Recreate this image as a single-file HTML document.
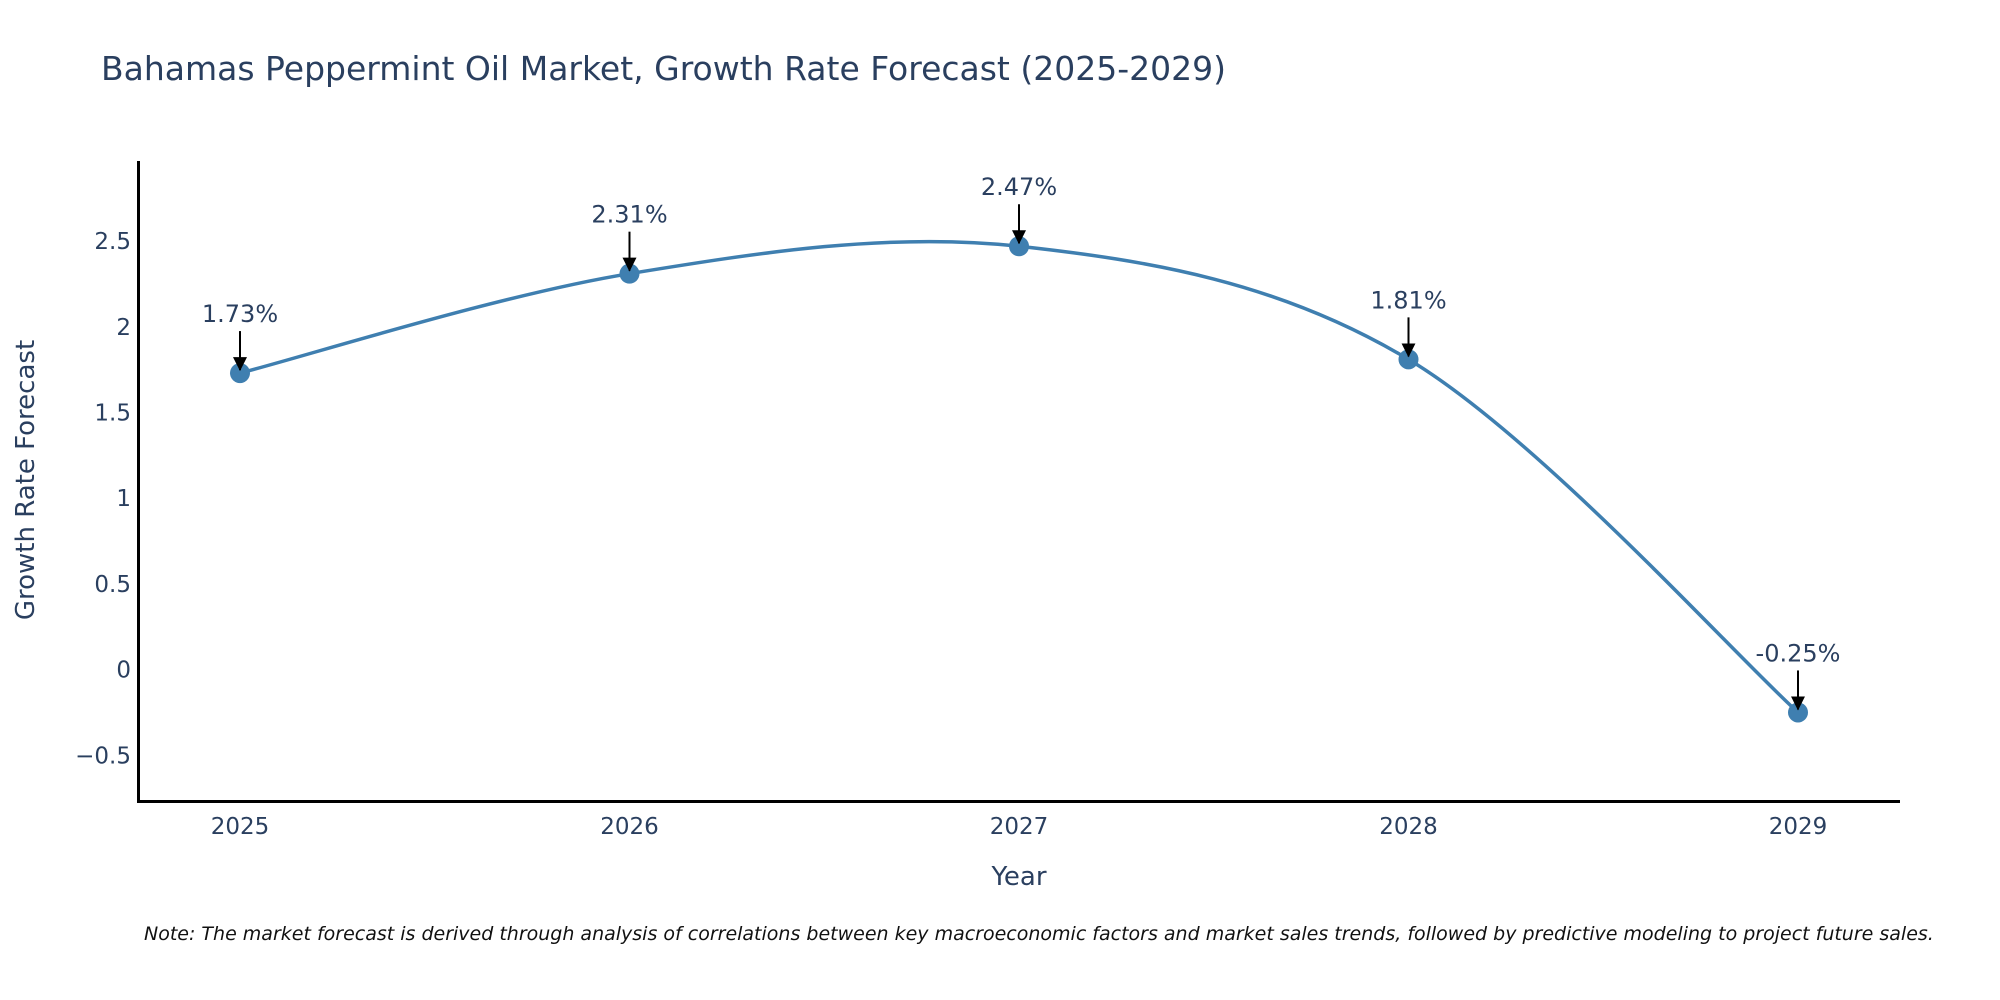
<!DOCTYPE html>
<html><head><meta charset="utf-8"><style>
body{margin:0;background:#fff;}
svg{display:block;font-family:"DejaVu Sans","Liberation Sans",sans-serif;}
</style></head><body>
<svg id="chart" width="2000" height="1000" viewBox="0 0 2000 1000" xmlns="http://www.w3.org/2000/svg">
<defs><marker id="ah" markerWidth="14" markerHeight="14" refX="13" refY="7" orient="auto" markerUnits="userSpaceOnUse" viewBox="0 0 14 14"><path d="M0,0 L14,7 L0,14 z" fill="#000"/></marker></defs>
<text x="101" y="80" font-size="33" fill="#2a3f5f">Bahamas Peppermint Oil Market, Growth Rate Forecast (2025-2029)</text>
<g id="plot"></g>
<line x1="138.5" y1="161" x2="138.5" y2="802" stroke="#000" stroke-width="3"/>
<line x1="137" y1="801.5" x2="1900" y2="801.5" stroke="#000" stroke-width="3"/>
<text x="1019" y="885" font-size="26" fill="#2a3f5f" text-anchor="middle">Year</text>
<text transform="translate(34,480) rotate(-90)" font-size="26" fill="#2a3f5f" text-anchor="middle">Growth Rate Forecast</text>
<text x="144" y="940" font-size="19" font-style="italic" fill="#111">Note: The market forecast is derived through analysis of correlations between key macroeconomic factors and market sales trends, followed by predictive modeling to project future sales.</text>
</svg>
<script>
const years = ["2025","2026","2027","2028","2029"];
const values = [1.73, 2.31, 2.47, 1.81, -0.25];
const labels = ["1.73%","2.31%","2.47%","1.81%","-0.25%"];
const yTicks = [-0.5, 0, 0.5, 1, 1.5, 2, 2.5];
const yTickLabels = ["\u22120.5","0","0.5","1","1.5","2","2.5"];

const NS="http://www.w3.org/2000/svg";
const g=document.getElementById('plot');
function xs(i){return 240+i*389.5;}
function ys(v){return 669.6-v*171.4;}
function mk(t,a){const e=document.createElementNS(NS,t);for(const k in a)e.setAttribute(k,a[k]);return e;}

yTicks.forEach((v,i)=>{
  const t=mk('text',{x:131,y:ys(v)+8,'font-size':23,fill:'#2a3f5f','text-anchor':'end'});
  
  
  t.textContent=yTickLabels[i];g.appendChild(t);
});
years.forEach((y,i)=>{
  const t=mk('text',{x:xs(i),y:834,'font-size':23,fill:'#2a3f5f','text-anchor':'middle'});
  
  
  t.textContent=y;g.appendChild(t);
});
const P=values.map((v,i)=>[xs(i),ys(v)]);
let d=`M${P[0][0]},${P[0][1]}`;
for(let i=0;i<P.length-1;i++){
  const p0=P[i-1]||P[i],p1=P[i],p2=P[i+1],p3=P[i+2]||P[i+1];
  const c1=[p1[0]+(p2[0]-p0[0])/6,p1[1]+(p2[1]-p0[1])/6];
  const c2=[p2[0]-(p3[0]-p1[0])/6,p2[1]-(p3[1]-p1[1])/6];
  d+=` C${c1[0]},${c1[1]} ${c2[0]},${c2[1]} ${p2[0]},${p2[1]}`;
}
const line=mk('path',{d:d,fill:'none',stroke:'#3f7fb0','stroke-width':3.5});


g.appendChild(line);
P.forEach((p,i)=>{
  const c=mk('circle',{cx:p[0],cy:p[1],r:10,fill:'#3f7fb0'});
  
  
  g.appendChild(c);
  const a=mk('line',{x1:p[0],y1:p[1]-42,x2:p[0],y2:p[1]-3,stroke:'#000','stroke-width':2,'marker-end':'url(#ah)'});
  
  
  g.appendChild(a);
  const t=mk('text',{x:p[0],y:p[1]-51,'font-size':24,fill:'#2a3f5f','text-anchor':'middle'});
  
  
  t.textContent=labels[i];g.appendChild(t);
});
</script>
</body></html>
